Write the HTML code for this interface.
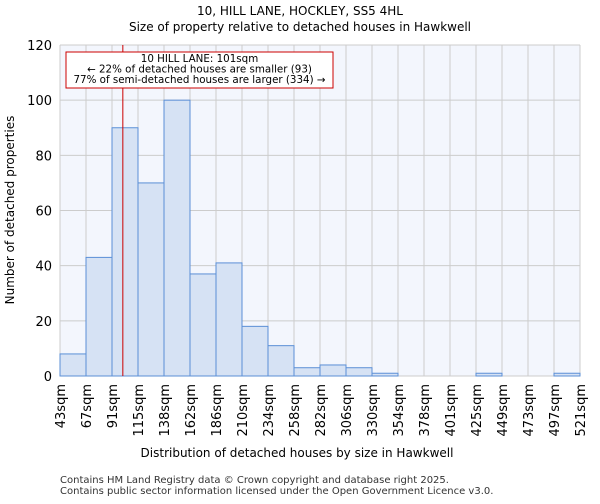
<!DOCTYPE html>
<html><head><meta charset="utf-8"><style>
body{margin:0;background:#fff;font-family:"DejaVu Sans","Liberation Sans",sans-serif;}
</style></head><body>
<svg width="600" height="500" xmlns="http://www.w3.org/2000/svg" font-family="DejaVu Sans, Liberation Sans, sans-serif">
<text x="300" y="15" text-anchor="middle" font-size="12">10, HILL LANE, HOCKLEY, SS5 4HL</text>
<text x="300" y="31" text-anchor="middle" font-size="12">Size of property relative to detached houses in Hawkwell</text>
<rect x="60" y="45" width="520" height="331" fill="#f3f6fd"/>
<g id="grid"></g><g id="bars"></g><g id="axes"></g>
<text x="297" y="457" text-anchor="middle" font-size="12">Distribution of detached houses by size in Hawkwell</text>
<text transform="translate(14,210) rotate(-90)" text-anchor="middle" font-size="12">Number of detached properties</text>
<text x="60" y="483" font-size="10" fill="#333">Contains HM Land Registry data © Crown copyright and database right 2025.</text>
<text x="60" y="494" font-size="10" fill="#333">Contains public sector information licensed under the Open Government Licence v3.0.</text>
<g id="annot"></g>
</svg>
<script>
const categories=["43sqm","67sqm","91sqm","115sqm","138sqm","162sqm","186sqm","210sqm","234sqm","258sqm","282sqm","306sqm","330sqm","354sqm","378sqm","401sqm","425sqm","449sqm","473sqm","497sqm","521sqm"];
const values=[8,43,90,70,100,37,41,18,11,3,4,3,1,0,0,0,1,0,0,1];
const yTicks=[0,20,40,60,80,100,120];
const binEdges=[43,67,91,115,138,162,186,210,234,258,282,306,330,354,378,401,425,449,473,497,521];
const markerValue=101;
const NS="http://www.w3.org/2000/svg";
const x0=60,x1=580,y0=376,y1=45,yMax=120;
const bw=(x1-x0)/values.length;
const xs=i=>x0+i*bw;
const ys=v=>y0-(v/yMax)*(y0-y1);
function mk(t,a,p){const e=document.createElementNS(NS,t);for(const k in a)e.setAttribute(k,a[k]);p.appendChild(e);return e;}
const grid=document.getElementById('grid'),bars=document.getElementById('bars'),axes=document.getElementById('axes'),annot=document.getElementById('annot');
yTicks.forEach(v=>{
 const l=mk('line',{x1:x0,x2:x1,y1:ys(v),y2:ys(v),stroke:'#cccccc'},grid);
 
 
 const t=mk('text',{x:x0-8,y:ys(v)+5,'text-anchor':'end','font-size':13},axes);
 t.textContent=v;
 
 
});
categories.forEach((c,i)=>{
 const l=mk('line',{x1:xs(i),x2:xs(i),y1:y1,y2:y0,stroke:'#cccccc'},grid);
 
 
 const t=mk('text',{transform:`translate(${xs(i)+5},${y0+8}) rotate(-90)`,'text-anchor':'end','font-size':13},axes);
 t.textContent=c;
 
 
});
values.forEach((v,i)=>{
 const r=mk('rect',{x:xs(i),y:ys(v),width:bw,height:y0-ys(v),fill:'#d6e2f4',stroke:'#5b8fd6','stroke-width':1},bars);
 
 
});
let mi=0;for(let i=0;i<binEdges.length-1;i++){if(markerValue>=binEdges[i]&&markerValue<binEdges[i+1])mi=i;}
const mx=xs(mi)+(markerValue-binEdges[mi])/(binEdges[mi+1]-binEdges[mi])*bw;
const ml=mk('line',{x1:mx,x2:mx,y1:y1,y2:y0,stroke:'#cc0000','stroke-width':1},annot);


const box=mk('rect',{x:66,y:52,width:267,height:36,fill:'#fff',stroke:'#cc0000','stroke-width':1},annot);


["10 HILL LANE: 101sqm","← 22% of detached houses are smaller (93)","77% of semi-detached houses are larger (334) →"].forEach((s,i)=>{
 const t=mk('text',{x:199.5,y:62+i*10.5,'text-anchor':'middle','font-size':10.3},annot);
 t.textContent=s;
 
 
});
</script>
</body></html>
